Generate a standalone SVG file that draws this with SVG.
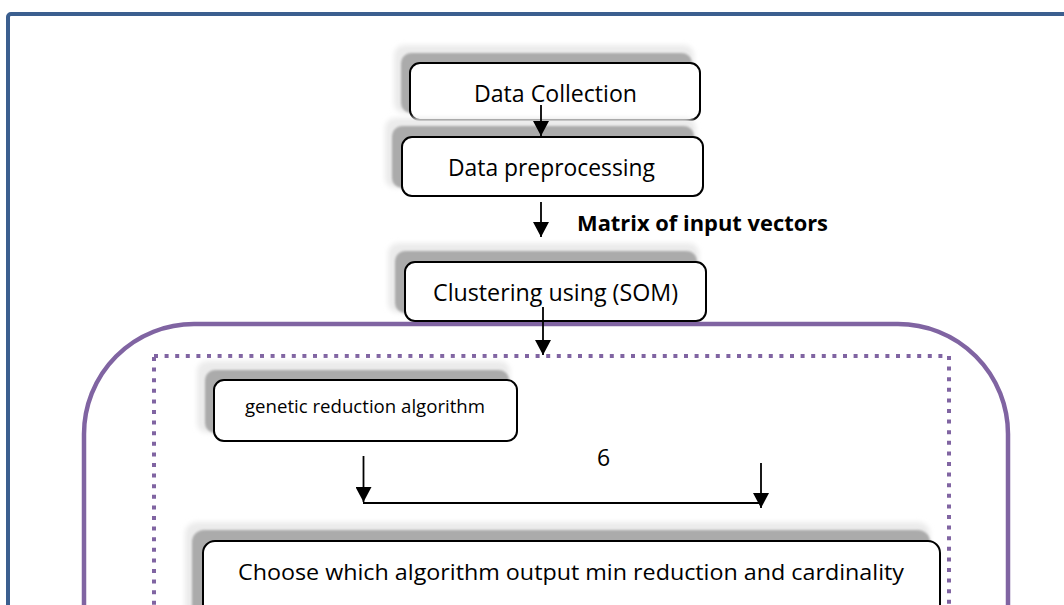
<svg xmlns="http://www.w3.org/2000/svg" width="1064" height="605" viewBox="0 0 1064 605">
<style>
.box{fill:#fff;stroke:#000;stroke-width:2}
.sh{fill:#ababab;filter:url(#b1)}
.gl{fill:#ebebeb;filter:url(#b2)}
.t{font-family:"Open Sans","Liberation Sans",sans-serif;fill:#000}
.ln{stroke:#000;stroke-width:1.8;fill:none}
</style>
<defs>
<filter id="b1" x="-5%" y="-30%" width="110%" height="160%"><feGaussianBlur stdDeviation="1"/></filter>
<filter id="b2" x="-10%" y="-40%" width="120%" height="180%"><feGaussianBlur stdDeviation="2.5"/></filter>
<marker id="ah" markerUnits="userSpaceOnUse" markerWidth="16" markerHeight="16" viewBox="0 0 16 16" refX="15" refY="8" orient="auto"><path d="M0,0 L15,8 L0,16 Z" fill="#000"/></marker>
</defs>
<rect x="8" y="14" width="1100" height="700" rx="3" fill="#fff" stroke="#3B5F8F" stroke-width="4"/>
<rect x="84" y="324" width="924" height="420" rx="110" fill="none" stroke="#8064A2" stroke-width="4.5"/>
<rect x="154" y="356" width="795" height="400" fill="none" stroke="#8064A2" stroke-width="4" stroke-dasharray="4 6.6"/>

<g id="data-collection">
<rect class="gl" x="394" y="45" width="300" height="68" rx="10"/>
<rect class="sh" x="401" y="53" width="291" height="60" rx="10"/>
<rect class="box" x="410" y="63" width="290" height="57" rx="10"/>
<text class="t" x="474" y="102" font-size="23" textLength="163" lengthAdjust="spacingAndGlyphs">Data Collection</text>
</g>
<g id="data-preprocessing">
<rect class="gl" x="385" y="118" width="311" height="70" rx="10"/>
<rect class="sh" x="392" y="126" width="302" height="62" rx="10"/>
<rect class="box" x="402" y="137" width="301" height="59" rx="10"/>
<text class="t" x="448" y="176" font-size="23" textLength="207" lengthAdjust="spacingAndGlyphs">Data preprocessing</text>
</g>
<g id="matrix-label">
<text class="t" x="577" y="231" font-size="21" font-weight="bold" textLength="251" lengthAdjust="spacingAndGlyphs">Matrix of input vectors</text>
</g>
<g id="clustering">
<rect class="gl" x="388" y="243" width="311" height="70" rx="10"/>
<rect class="sh" x="395" y="251" width="302" height="62" rx="10"/>
<rect class="box" x="405" y="262" width="301" height="59" rx="10"/>
<text class="t" x="433" y="301" font-size="23" textLength="245" lengthAdjust="spacingAndGlyphs">Clustering using (SOM)</text>
</g>
<g id="genetic">
<rect class="gl" x="197" y="361" width="313" height="72" rx="10"/>
<rect class="sh" x="205" y="370" width="304" height="63" rx="10"/>
<rect class="box" x="214" y="380" width="303" height="61" rx="10"/>
<text class="t" x="245" y="413" font-size="18.6" textLength="240" lengthAdjust="spacingAndGlyphs">genetic reduction algorithm</text>
</g>
<g id="label-6">
<text class="t" x="597" y="466" font-size="23">6</text>
</g>
<g id="choose">
<rect class="gl" x="185" y="522" width="745" height="100" rx="12"/>
<rect class="sh" x="192" y="530" width="738" height="100" rx="12"/>
<rect class="box" x="203" y="541" width="737" height="100" rx="12"/>
<text class="t" x="238" y="580" font-size="21.5" textLength="666" lengthAdjust="spacingAndGlyphs">Choose which algorithm output min reduction and cardinality</text>
</g>

<g id="connectors">
<line class="ln" x1="541" y1="105" x2="541" y2="136" marker-end="url(#ah)"/>
<line class="ln" x1="541" y1="202" x2="541" y2="237" marker-end="url(#ah)"/>
<line class="ln" x1="543" y1="307" x2="543" y2="355" marker-end="url(#ah)"/>
<line class="ln" x1="363.5" y1="456" x2="363.5" y2="502" marker-end="url(#ah)"/>
<line class="ln" x1="761" y1="463" x2="761" y2="508" marker-end="url(#ah)"/>
<line class="ln" x1="363" y1="503" x2="762" y2="503"/>
</g>
</svg>
